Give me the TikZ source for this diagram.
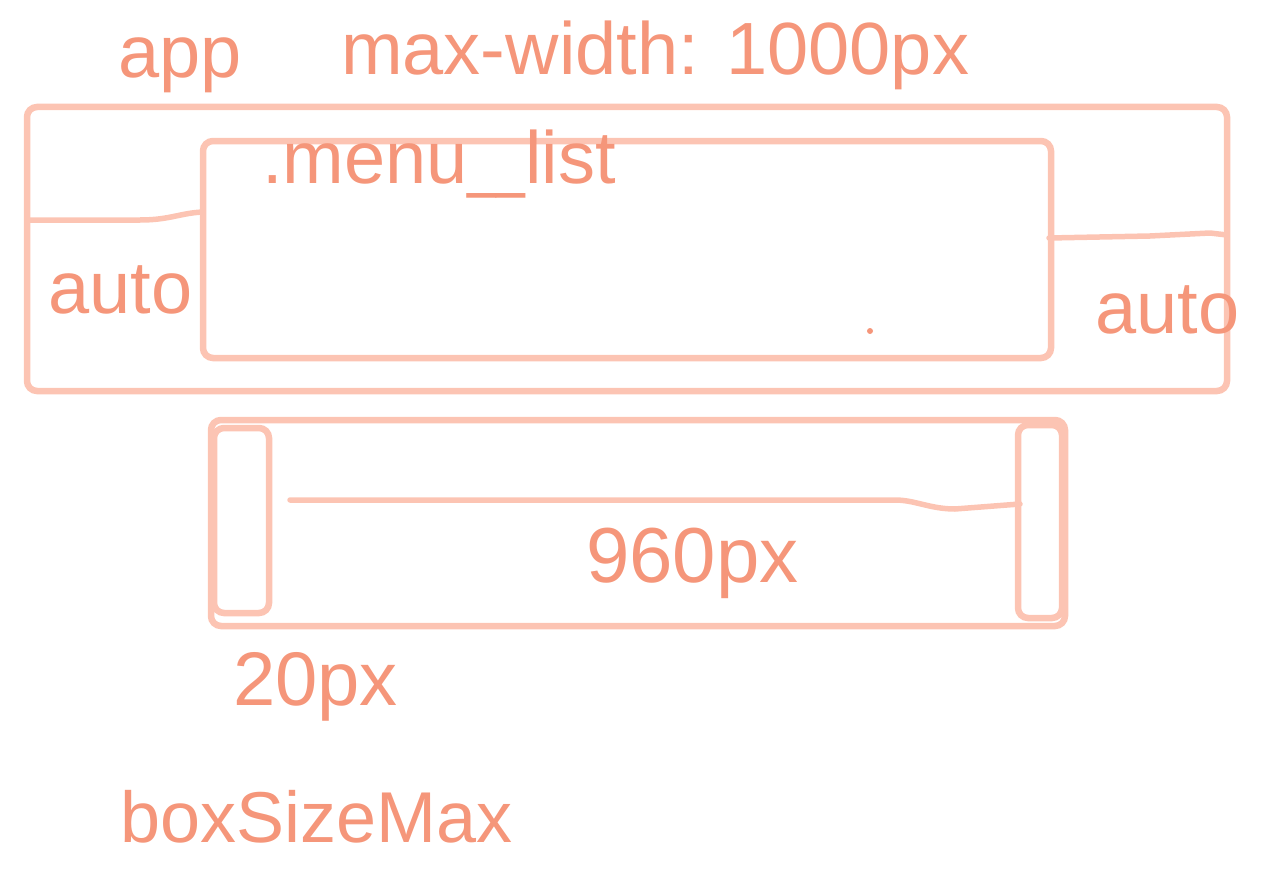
\documentclass[tikz,border=0pt]{standalone}
\usepackage{fontspec}
\usepackage{graphicx}
\setmainfont{Liberation Sans}
\definecolor{ink}{HTML}{F5967A}
\definecolor{pen}{HTML}{FCC4B3}
\newcommand{\narrowus}{\scalebox{0.7}[1]{\_}}
\begin{document}
\begin{tikzpicture}[x=1pt,y=-1pt,
  box/.style={draw=pen,line width=6.5pt,rounded corners=10pt,inner sep=0pt,minimum width=#1},
  pline/.style={draw=pen,line width=5.5pt,line cap=round,line join=round},
  lbl/.style={text=ink,inner sep=0pt,anchor=base west,font=\fontsize{74}{80}\selectfont}]
\useasboundingbox (0,0) rectangle (1276,888);
% boxes
\node[box=1200pt,minimum height=284pt] (app) at (627,249) {};
\node[box=848pt,minimum height=217pt] (menu) at (627,249.5) {};
\node[box=854pt,minimum height=206pt] (outer) at (638,523) {};
\node[box=55pt,minimum height=185pt] (lft) at (241.5,520.5) {};
\node[box=44pt,minimum height=193pt] (rgt) at (1040,521.5) {};
% connector coordinates
\coordinate (l1) at (27,220);
\coordinate (l2) at (203,212);
\coordinate (r1) at (1049,238);
\coordinate (r2) at (1227,235);
\coordinate (m1) at (290,500);
\coordinate (m2) at (1020,504);
\draw[pline] (l1) -- (140,220) .. controls (170,220) and (180,213) .. (l2);
\draw[pline] (r1) -- (1150,236) -- (1210,233) -- (r2);
\draw[pline] (m1) -- (895,500) .. controls (915,500) and (930,509) .. (955,509) -- (m2);
\fill[ink] (870,331) circle (3pt);
% labels
\node[lbl] (tapp) at (118,78) {app};
\node[lbl] (tmax) at (341,75) {max-width: 1000px};
\node[lbl] (tmenu) at (262,183) {.menu\narrowus\narrowus list};
\node[lbl] (tauto1) at (48,313) {auto};
\node[lbl] (tauto2) at (1095,333) {auto};
\node[lbl,font=\fontsize{78}{84}\selectfont] (t960) at (586,582) {960px};
\node[lbl,font=\fontsize{76}{82}\selectfont] (t20) at (233,705) {20px};
\node[lbl,font=\fontsize{72}{80}\selectfont] (tbox) at (120,842) {boxSizeMax};
\end{tikzpicture}
\end{document}
